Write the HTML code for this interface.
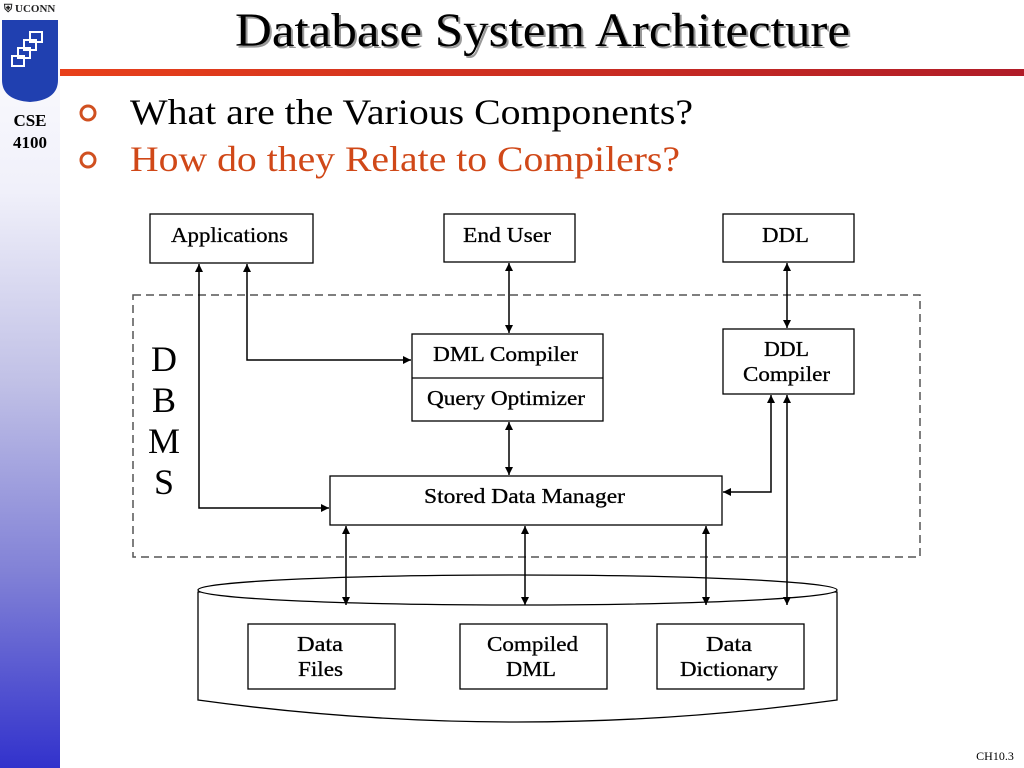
<!DOCTYPE html>
<html><head><meta charset="utf-8"><style>
html,body{margin:0;padding:0;background:#fff;}
svg{display:block;}
</style></head><body>
<svg width="1024" height="768" viewBox="0 0 1024 768" xmlns="http://www.w3.org/2000/svg" font-family="Liberation Serif, serif">
<defs>
<linearGradient id="side" x1="0" y1="0" x2="0" y2="1">
<stop offset="0" stop-color="#ffffff"/><stop offset="0.25" stop-color="#f0f0fa"/><stop offset="0.5" stop-color="#c0c0e6"/><stop offset="0.75" stop-color="#8080d6"/><stop offset="1" stop-color="#3232cc"/>
</linearGradient>
<linearGradient id="red" x1="0" y1="0" x2="1" y2="0">
<stop offset="0" stop-color="#e8401a"/><stop offset="1" stop-color="#b01c28"/>
</linearGradient>
<marker id="ah" viewBox="0 0 10 10" refX="10" refY="5" markerWidth="8" markerHeight="8" markerUnits="userSpaceOnUse" orient="auto-start-reverse"><path d="M0,0 L10,5 L0,10 z" fill="#000"/></marker>
</defs>
<rect x="0" y="0" width="60" height="768" fill="url(#side)"/>
<text x="4" y="12" font-size="11" font-weight="bold" fill="#222">⛨ UCONN</text>
<path d="M2,20 H58 V80 Q58,100 30,102 Q2,100 2,80 Z" fill="#2040b0"/>
<g fill="none" stroke="#fff" stroke-width="2"><rect x="30" y="32" width="12" height="10"/><rect x="24" y="40" width="12" height="10"/><rect x="18" y="48" width="12" height="10"/><rect x="12" y="56" width="12" height="10"/></g>
<text x="30" y="126" font-size="17" font-weight="bold" text-anchor="middle">CSE</text>
<text x="30" y="148" font-size="17" font-weight="bold" text-anchor="middle">4100</text>
<g lengthAdjust="spacingAndGlyphs">
<text x="237" y="48" font-size="48" textLength="615" lengthAdjust="spacingAndGlyphs" fill="#999">Database System Architecture</text>
<text x="235" y="46" font-size="48" textLength="615" lengthAdjust="spacingAndGlyphs" fill="#000">Database System Architecture</text>
</g>
<rect x="60" y="69" width="964" height="7" fill="url(#red)"/>
<circle cx="88" cy="113" r="7" fill="none" stroke="#d05020" stroke-width="3"/>
<circle cx="88" cy="160" r="7" fill="none" stroke="#d05020" stroke-width="3"/>
<text x="130" y="124" font-size="36" textLength="563" lengthAdjust="spacingAndGlyphs" fill="#000">What are the Various Components?</text>
<text x="130" y="171" font-size="36" textLength="550" lengthAdjust="spacingAndGlyphs" fill="#d04818">How do they Relate to Compilers?</text>
<rect x="133" y="295" width="787" height="262" fill="none" stroke="#555" stroke-width="1.5" stroke-dasharray="8,5"/>
<g fill="#fff" stroke="#000" stroke-width="1.3">
<rect x="150" y="214" width="163" height="49"/>
<rect x="444" y="214" width="131" height="48"/>
<rect x="723" y="214" width="131" height="48"/>
<rect x="412" y="334" width="191" height="87"/>
<rect x="723" y="329" width="131" height="65"/>
<rect x="330" y="476" width="392" height="49"/>
<path d="M198,592 L198,700 Q517,744 837,700 L837,592 Z"/>
<ellipse cx="517.5" cy="590" rx="319.5" ry="15"/>
<rect x="248" y="624" width="147" height="65"/>
<rect x="460" y="624" width="147" height="65"/>
<rect x="657" y="624" width="147" height="65"/>
</g>
<line x1="412" y1="378" x2="603" y2="378" stroke="#000" stroke-width="1.3"/>
<g font-size="21" fill="#000" stroke="#000" stroke-width="0.3">
<text x="171" y="242" textLength="117" lengthAdjust="spacingAndGlyphs">Applications</text>
<text x="463" y="242" textLength="88" lengthAdjust="spacingAndGlyphs">End User</text>
<text x="762" y="242" textLength="47" lengthAdjust="spacingAndGlyphs">DDL</text>
<text x="433" y="361" textLength="145" lengthAdjust="spacingAndGlyphs">DML Compiler</text>
<text x="427" y="405" textLength="158" lengthAdjust="spacingAndGlyphs">Query Optimizer</text>
<text x="764" y="356" textLength="45" lengthAdjust="spacingAndGlyphs">DDL</text>
<text x="743" y="381" textLength="87" lengthAdjust="spacingAndGlyphs">Compiler</text>
<text x="424" y="503" textLength="201" lengthAdjust="spacingAndGlyphs">Stored Data Manager</text>
<text x="297" y="651" textLength="46" lengthAdjust="spacingAndGlyphs">Data</text><text x="298" y="676" textLength="45" lengthAdjust="spacingAndGlyphs">Files</text>
<text x="487" y="651" textLength="91" lengthAdjust="spacingAndGlyphs">Compiled</text><text x="506" y="676" textLength="50" lengthAdjust="spacingAndGlyphs">DML</text>
<text x="706" y="651" textLength="46" lengthAdjust="spacingAndGlyphs">Data</text><text x="680" y="676" textLength="98" lengthAdjust="spacingAndGlyphs">Dictionary</text>
</g>
<g font-size="36" text-anchor="middle" fill="#000">
<text x="164" y="371">D</text><text x="164" y="412">B</text><text x="164" y="453">M</text><text x="164" y="494">S</text>
</g>
<g stroke="#000" stroke-width="1.5" fill="none" marker-start="url(#ah)" marker-end="url(#ah)">
<line x1="509" y1="263" x2="509" y2="333"/>
<line x1="787" y1="263" x2="787" y2="328"/>
<polyline points="199,264 199,508 329,508"/>
<polyline points="247,264 247,360 411,360"/>
<line x1="509" y1="422" x2="509" y2="475"/>
<polyline points="771,395 771,492 723,492"/>
<line x1="787" y1="395" x2="787" y2="605"/>
<line x1="346" y1="526" x2="346" y2="605"/>
<line x1="525" y1="526" x2="525" y2="605"/>
<line x1="706" y1="526" x2="706" y2="605"/>
</g>
<text x="995" y="760" font-size="12" text-anchor="middle">CH10.3</text>
</svg>
</body></html>
